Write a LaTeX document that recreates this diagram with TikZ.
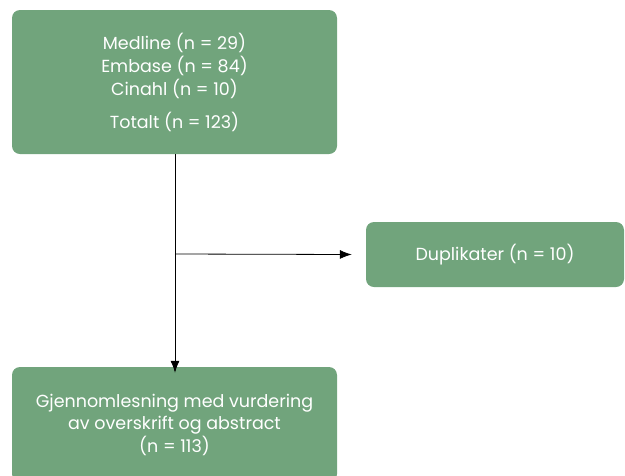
\documentclass[tikz,border=0pt]{standalone}
\usepackage{fontspec}
\setmainfont{Poppins}
\usetikzlibrary{arrows.meta}
\definecolor{boxgreen}{HTML}{71A47C}
\tikzset{
  box/.style={fill=boxgreen,rounded corners=8pt,text=white,align=center,font=\fontsize{17.5}{23}\selectfont,inner sep=0pt},
  flow/.style={-{Latex[length=12pt,width=9pt]},line width=0.8pt}
}
\begin{document}
\begin{tikzpicture}[x=1pt,y=-1pt]
\useasboundingbox (0,0) rectangle (625,475);
\node[box,minimum width=325pt,minimum height=144pt] (kilder) at (174.5,82)
  {Medline (n = 29)\\Embase (n = 84)\\Cinahl (n = 10)\\[10pt]Totalt (n = 123)};
\node[box,minimum width=258pt,minimum height=65pt] (dup) at (495,254.5) {Duplikater (n = 10)};
\node[box,minimum width=325pt,minimum height=115pt,
  font=\fontsize{17.5}{22.5}\selectfont] (gjennom) at (174.5,424.5)
  {Gjennomlesning med vurdering\\av overskrift og abstract\\(n = 113)};
\coordinate (gren) at (175,254);
\draw[flow] (kilder.south -| gren) -- ([yshift=-6pt]gjennom.north -| gren);
\draw[flow] (gren) -- ([xshift=-14pt]dup.west);
\end{tikzpicture}
\end{document}
